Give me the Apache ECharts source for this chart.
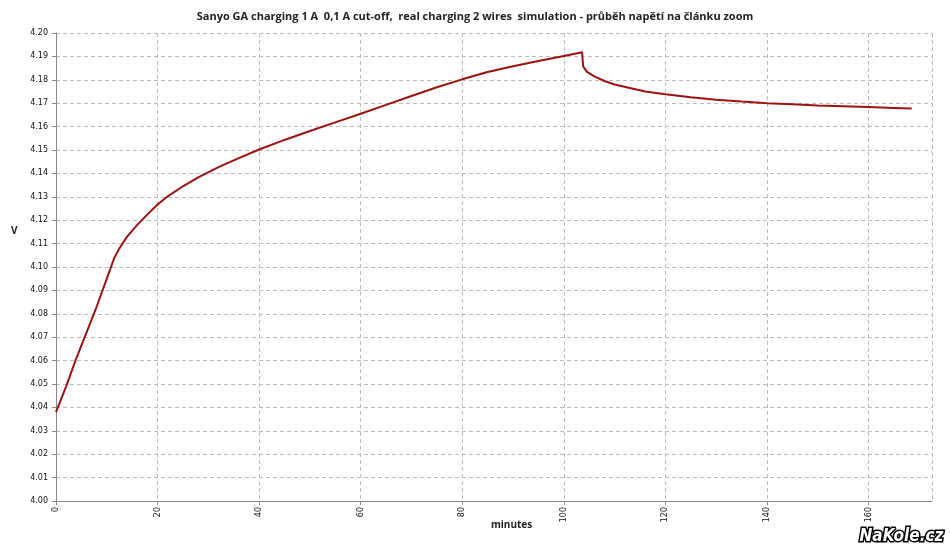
<!DOCTYPE html>
<html>
<head>
<meta charset="utf-8">
<script src="https://cdn.jsdelivr.net/npm/echarts@6/dist/echarts.min.js"></script>
<style>html,body{margin:0;padding:0;background:#fff}#c{width:950px;height:551px}</style>
</head>
<body>
<div id="c"></div>
<script>
const minutes = [0,2,4,6,8,10,11.5,12.5,14,16,18,20,22,25,28,32,36,40,45,50,55,60,65,70,75,80,85,90,95,100,103.6,103.8,104.5,106,108,110,113,116,120,125,130,135,140,145,150,155,160,165,168.5];
const voltage = [4.038,4.049,4.061,4.072,4.083,4.095,4.104,4.108,4.113,4.118,4.1225,4.1267,4.1302,4.1345,4.1383,4.1427,4.1465,4.1502,4.1543,4.1581,4.1618,4.1655,4.1693,4.1731,4.1768,4.1802,4.1833,4.1858,4.188,4.1902,4.1918,4.1858,4.1835,4.1815,4.1795,4.178,4.1765,4.175,4.1738,4.1725,4.1715,4.1707,4.170,4.1695,4.169,4.1687,4.1684,4.168,4.1677];
const titleText = 'Sanyo GA charging 1 A  0,1 A cut-off,  real charging 2 wires  simulation - průběh napětí na článku zoom';
const xName = 'minutes';
const yName = 'V';
const watermark = 'NaKole.cz';

const chart = echarts.init(document.getElementById('c'), null, {renderer:'canvas'});
const gridLine = {show:true, lineStyle:{color:'#bdbdbd', type:[4,3], width:1}};
const nameFont = 'bold 10px "Open Sans"';
chart.setOption({
  animation:false,
  backgroundColor:'#fff',
  title:{text:titleText, left:'center', top:6, textStyle:{fontFamily:'Open Sans', fontSize:11, fontWeight:'bold', color:'#222'}},
  grid:{left:56, right:18, top:33, bottom:50},
  xAxis:{type:'value', min:0, max:172.5, interval:20,
    axisLine:{lineStyle:{color:'#888'}}, axisTick:{show:true, length:4, lineStyle:{color:'#888'}},
    axisLabel:{rotate:90, fontFamily:'DejaVu Sans', fontSize:8, color:'#111', margin:6, showMaxLabel:false},
    splitLine:gridLine},
  yAxis:{type:'value', min:4.00, max:4.20, interval:0.01,
    axisLine:{show:true, lineStyle:{color:'#888'}}, axisTick:{show:true, length:4, lineStyle:{color:'#888'}},
    axisLabel:{fontFamily:'DejaVu Sans', fontSize:8, color:'#111', margin:8, formatter:v=>v.toFixed(2)},
    splitLine:gridLine},
  series:[{type:'line', data:minutes.map((m,i)=>[m,voltage[i]]), showSymbol:false, smooth:false,
    lineStyle:{color:'#9b1212', width:2}}],
  graphic:[
    {type:'text', left:491, top:520, style:{text:xName, font:nameFont, fill:'#222'}},
    {type:'text', left:11, top:226, style:{text:yName, font:nameFont, fill:'#222'}},
    {type:'text', right:5, bottom:4, style:{text:watermark, font:'italic bold 17px "Liberation Sans Narrow", "DejaVu Sans Condensed", sans-serif', fill:'#fff', stroke:'#000', lineWidth:3}}
  ]
});
</script>
</body>
</html>
